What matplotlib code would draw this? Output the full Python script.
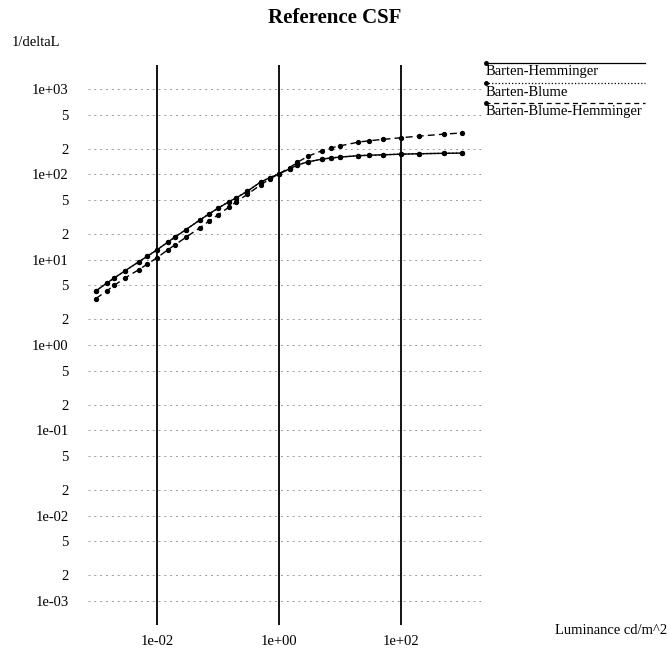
import matplotlib
matplotlib.use("Agg")
import matplotlib.pyplot as plt
from matplotlib.lines import Line2D

plt.rcParams['font.family'] = ['Liberation Serif', 'DejaVu Serif']

# Luminance (cd/m^2)
luminance = [0.001, 0.0015, 0.002, 0.003, 0.005, 0.007, 0.01, 0.015, 0.02, 0.03,
             0.05, 0.07, 0.1, 0.15, 0.2, 0.3, 0.5, 0.7, 1.0, 1.5, 2.0, 3.0, 5.0,
             7.0, 10.0, 20.0, 30.0, 50.0, 100.0, 200.0, 500.0, 1000.0]
# 1/deltaL
barten_hemminger = [4.3, 5.3, 6.1, 7.4, 9.4, 11.0, 13.0, 16.0, 18.5, 22.5,
                    29.0, 34.0, 40.0, 47.5, 53.0, 63.0, 81.0, 91.0, 101, 116, 128, 140, 150,
                    155, 159, 165, 167, 169, 172, 174, 176, 177]
barten_blume = list(barten_hemminger)
barten_blume_hemminger = [3.5, 4.3, 5.0, 6.1, 7.6, 8.9, 10.5, 13.0, 15.0, 18.3,
                          23.5, 28.0, 33.5, 41.0, 47.5, 58.0, 75.0, 88.0, 101, 120, 138, 163, 188,
                          203, 215, 238, 247, 256, 268, 280, 295, 305]

series_names = ["Barten-Hemminger", "Barten-Blume", "Barten-Blume-Hemminger"]
x_ticks = [1e-2, 1e0, 1e2]
x_tick_labels = ["1e-02", "1e+00", "1e+02"]
y_ticks = [1e-3, 2e-3, 5e-3, 1e-2, 2e-2, 5e-2, 1e-1, 2e-1, 5e-1, 1e0, 2e0, 5e0,
           1e1, 2e1, 5e1, 1e2, 2e2, 5e2, 1e3]
y_tick_labels = ["1e-03", "2", "5", "1e-02", "2", "5", "1e-01", "2", "5", "1e+00",
                 "2", "5", "1e+01", "2", "5", "1e+02", "2", "5", "1e+03"]

W, H = 669, 650
fig = plt.figure(figsize=(W / 100, H / 100), dpi=100)
ax = fig.add_axes([88 / W, 25 / H, (483 - 88) / W, 560 / H])
ax.set_xscale('log')
ax.set_yscale('log')
ax.set_xlim(10 ** -3.13, 10 ** 3.344)
ax.set_ylim(10 ** -3.28, 10 ** 3.28)

for s in ax.spines.values():
    s.set_visible(False)

ax.set_xticks(x_ticks)
ax.set_xticklabels(x_tick_labels)
ax.set_yticks(y_ticks)
ax.set_yticklabels(y_tick_labels)
ax.minorticks_off()
ax.tick_params(axis='both', length=0, labelsize=10.5)
ax.tick_params(axis='x', pad=7)
ax.tick_params(axis='y', pad=14)

for yv in y_ticks:
    ax.axhline(yv, color='#9a9a9a', lw=0.7, ls=(0, (2, 4)), zorder=1)
for xv in x_ticks:
    ax.axvline(xv, color='black', lw=1.3, zorder=2)

ax.plot(luminance, barten_hemminger, color='black', lw=1.0, ls='-',
        marker='o', ms=2.8, zorder=3)
ax.plot(luminance, barten_blume, color='black', lw=1.0, ls=':',
        marker='o', ms=2.8, zorder=3)
ax.plot(luminance, barten_blume_hemminger, color='black', lw=1.0, ls=(0, (5, 3)),
        marker='o', ms=2.8, zorder=3)

# Legend (line sample above each label)
styles = ['-', ':', (0, (4, 3))]
line_y = [63, 83, 103]
text_y = [72, 92, 111]
for name, st, ly, ty in zip(series_names, styles, line_y, text_y):
    fig.add_artist(Line2D([485 / W, 645 / W], [1 - ly / H, 1 - ly / H],
                          color='black', lw=0.9, ls=st))
    fig.add_artist(Line2D([486 / W], [1 - ly / H], color='black',
                          marker='o', ms=2.5, ls='none'))
    fig.text(486 / W, 1 - ty / H, name, fontsize=10.5, ha='left', va='center')

fig.text(335 / W, 1 - 18 / H, "Reference CSF", fontsize=15, fontweight='bold',
         ha='center', va='center')
fig.text(12 / W, 1 - 42 / H, "1/deltaL", fontsize=10.5, ha='left', va='center')
fig.text(555 / W, 1 - 630 / H, "Luminance cd/m^2", fontsize=10.5, ha='left', va='center')

fig.savefig("out.png", dpi=100, facecolor='white')
